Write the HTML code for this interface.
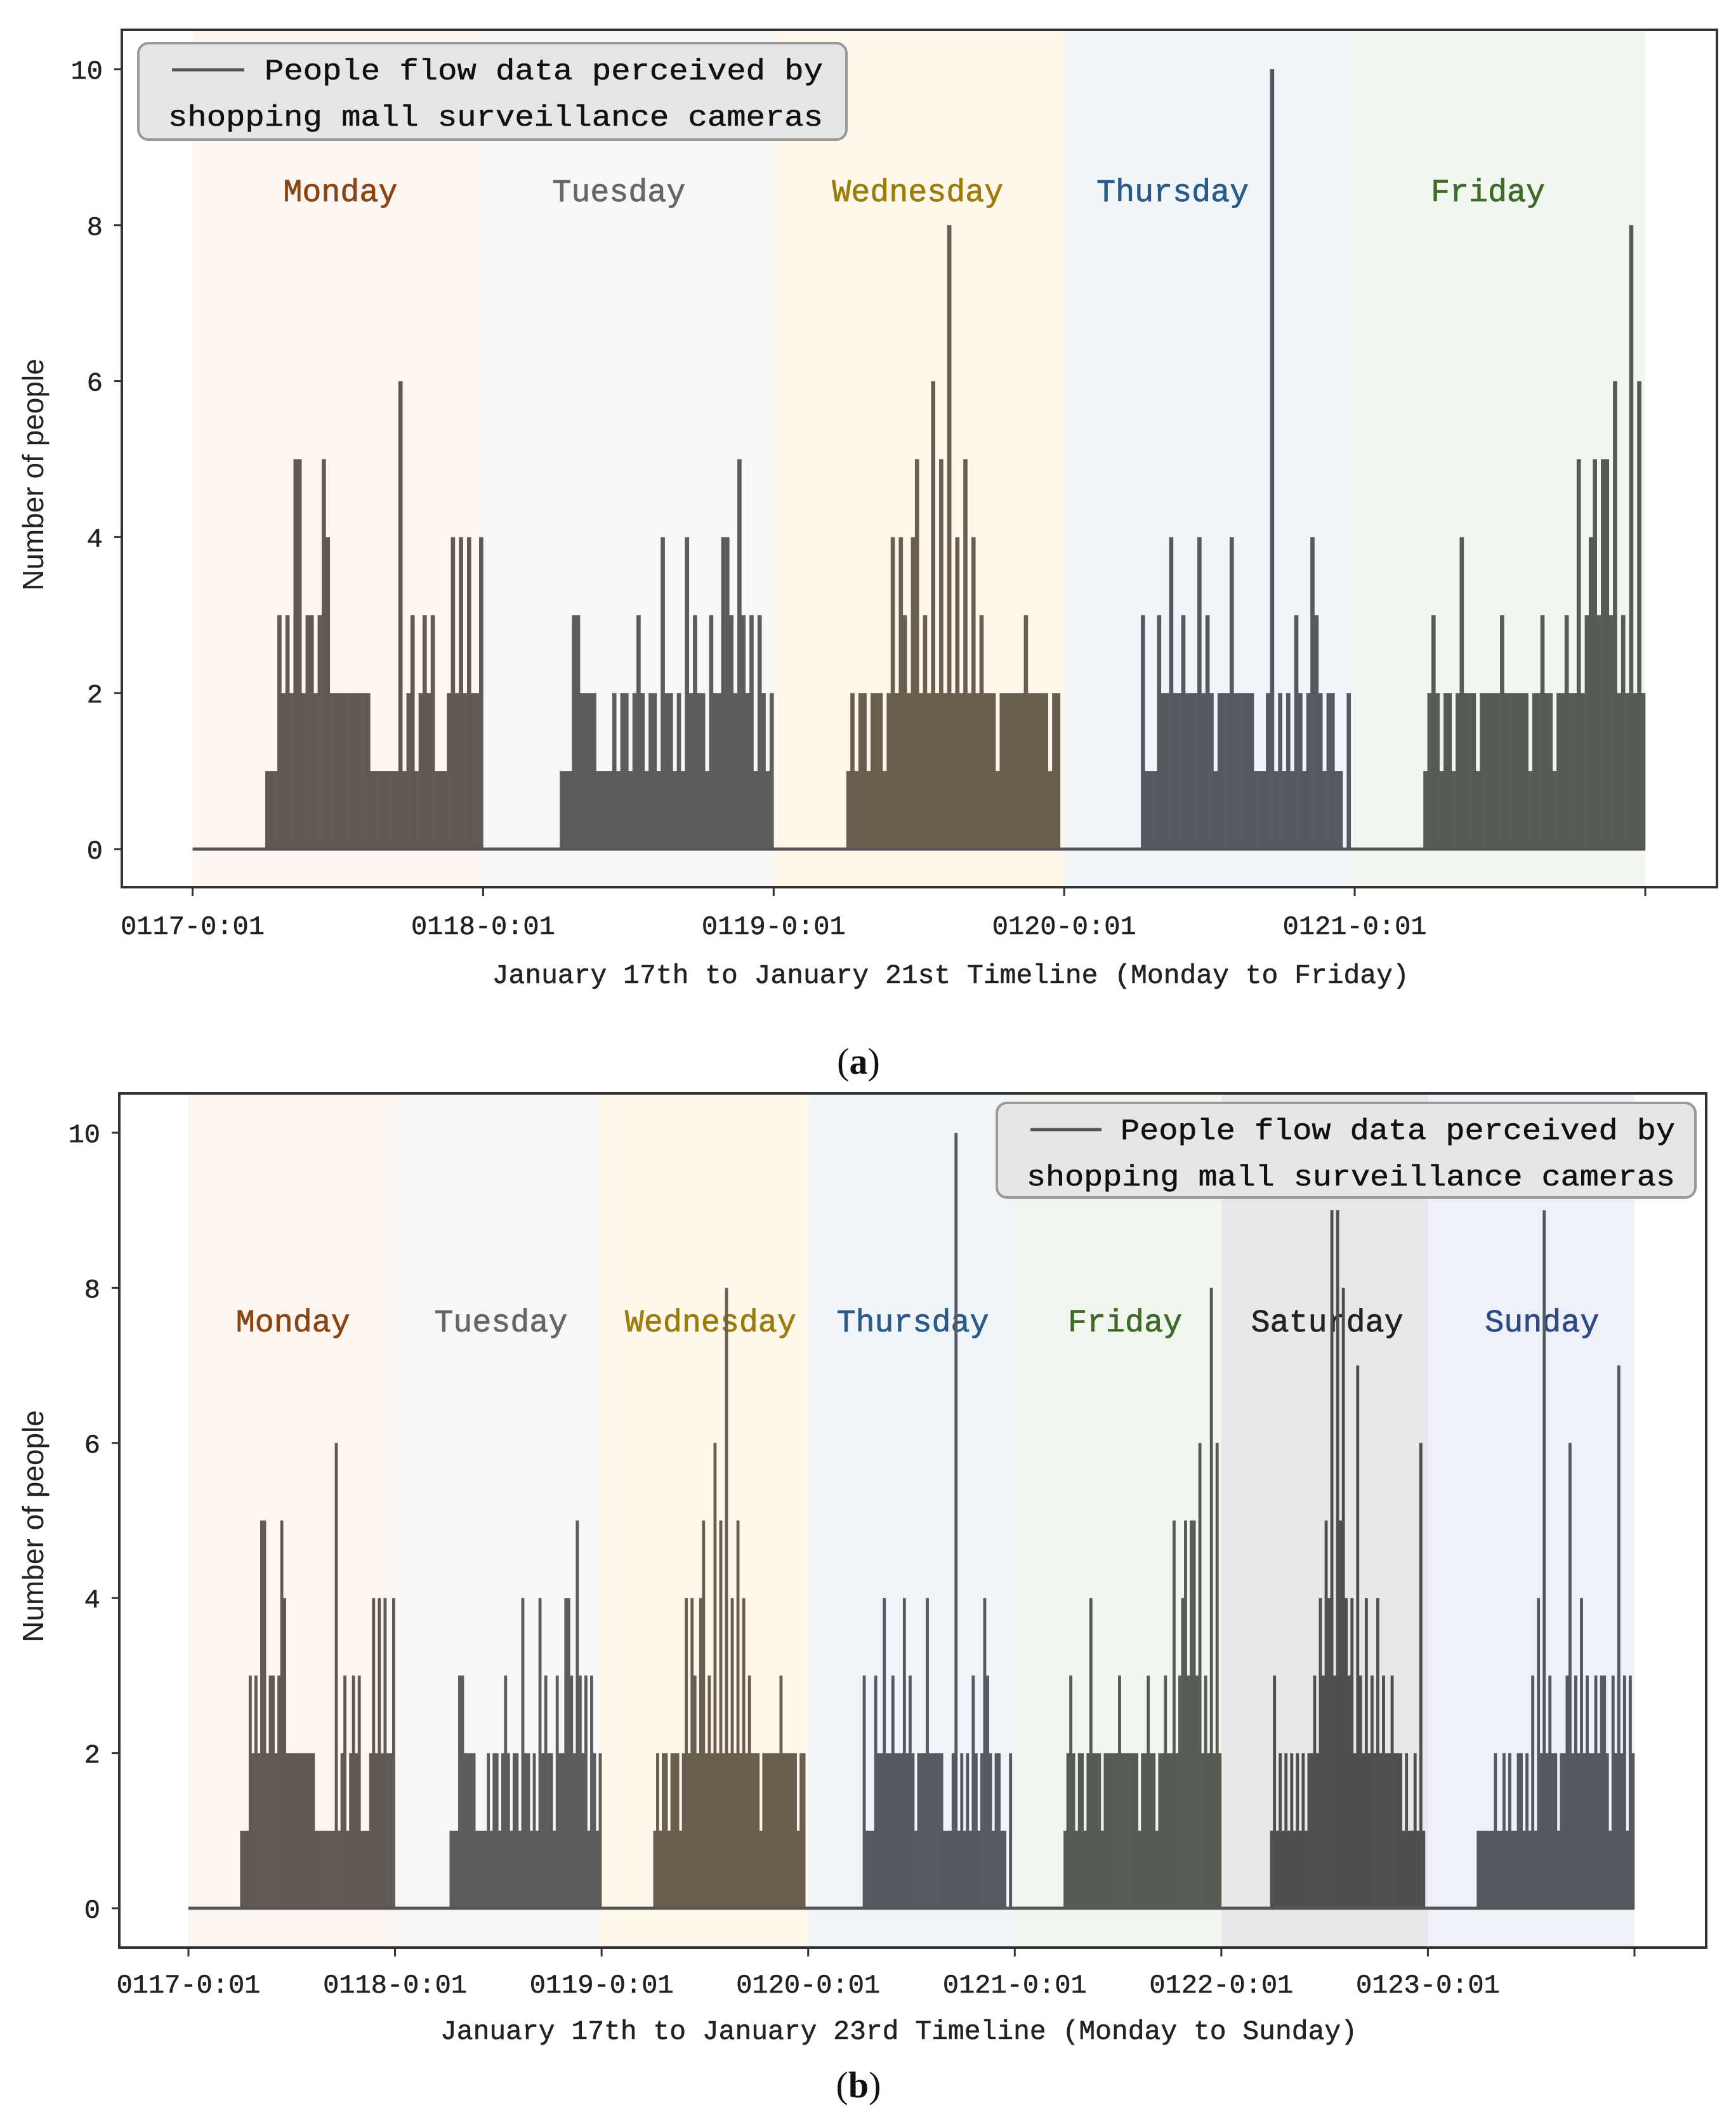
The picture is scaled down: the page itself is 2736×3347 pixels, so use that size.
<!DOCTYPE html>
<html><head><meta charset="utf-8">
<style>
html,body{margin:0;padding:0;background:#fff;}
svg{display:block;}
.mono{font-family:"Liberation Mono",monospace;}
</style></head>
<body>
<svg id="chart" width="2736" height="3347" viewBox="0 0 2736 3347" xmlns="http://www.w3.org/2000/svg"></svg>
<script>
// ---- data (20-minute slots, 72 per day) ----
const monVals=[0,0,0,0,0,0,0,0,0,0,0,0,0,0,0,0,0,0,1,1,1,3,2,3,2,5,5,2,3,3,2,3,5,4,2,2,2,2,2,2,2,2,2,2,1,1,1,1,1,1,1,6,1,2,3,1,2,3,2,3,1,1,1,2,4,2,4,2,4,2,2,4];
const tueVals=[0,0,0,0,0,0,0,0,0,0,0,0,0,0,0,0,0,0,0,1,1,1,3,3,2,2,2,2,1,1,1,1,2,1,2,2,1,2,3,2,1,2,2,1,4,2,2,1,2,1,4,2,3,2,2,1,3,2,2,4,4,3,2,5,3,2,3,1,3,2,1,2];
const wedVals=[0,0,0,0,0,0,0,0,0,0,0,0,0,0,0,0,0,0,1,2,1,2,2,1,2,2,2,1,2,4,2,4,3,2,4,5,2,3,2,6,2,5,2,8,2,4,2,5,2,4,2,3,2,2,2,1,2,2,2,2,2,2,3,2,2,2,2,2,1,2,2,0];
const thuVals=[0,0,0,0,0,0,0,0,0,0,0,0,0,0,0,0,0,0,0,3,1,1,1,3,2,2,4,2,2,3,2,2,2,4,2,3,2,1,2,2,2,4,2,2,2,2,2,1,1,1,2,10,1,2,1,2,1,3,2,1,2,4,3,2,1,2,2,1,1,0,2,0];
const friVals=[0,0,0,0,0,0,0,0,0,0,0,0,0,0,0,0,0,1,2,3,2,1,2,2,1,2,4,2,2,2,1,2,2,2,2,2,3,2,2,2,2,2,2,1,2,2,3,2,2,1,2,2,3,2,2,5,2,3,4,5,3,5,5,3,6,2,3,2,8,2,6,2];
const satVals=[0,0,0,0,0,0,0,0,0,0,0,0,0,0,0,0,0,1,3,1,2,1,2,1,2,1,2,1,2,1,2,2,3,2,4,3,5,4,9,3,9,5,8,4,3,4,2,7,3,2,4,2,3,2,4,2,3,2,2,3,2,2,2,1,2,1,1,2,1,6,1,0];
const sunVals=[0,0,0,0,0,0,0,0,0,0,0,0,0,0,0,0,0,1,1,1,1,1,1,2,1,1,2,1,2,1,1,2,2,1,2,1,3,1,4,2,9,2,3,2,2,1,2,2,3,6,2,3,2,4,2,3,2,2,3,2,3,3,2,1,3,2,7,2,3,1,3,2];
const dayNames=["Monday","Tuesday","Wednesday","Thursday","Friday","Saturday","Sunday"];
const xTickLabels=["0117-0:01","0118-0:01","0119-0:01","0120-0:01","0121-0:01","0122-0:01","0123-0:01"];
const yTicks=[0,2,4,6,8,10];
const allDays=[monVals,tueVals,wedVals,thuVals,friVals,satVals,sunVals];
// styles
const bandColors=["#fdf5f0","#f7f7f7","#fff8ea","#f0f5fa","#f1f6ef","#e8e8e8","#eef1fa"];
const barColors=["#625953","#5c5c5c","#6a5f4f","#555a60","#565c54","#4f4f4f","#545861"];
const labelColors=["#8b4513","#666666","#9a7d0a","#2a5a8a","#3f6a2a","#222222","#2e4a86"];

const NS="http://www.w3.org/2000/svg";
const svg=document.getElementById('chart');
function mk(tag,attrs,parent,text){const e=document.createElementNS(NS,tag);for(const k in attrs)e.setAttribute(k,attrs[k]);if(text!==undefined)e.textContent=text;(parent||svg).appendChild(e);return e;}

function panel(cfg){
  const g=mk('g',{});
  
  
  const nd=cfg.days;
  const dayW=(cfg.xEnd-cfg.x0)/nd;
  const xs=d=>cfg.x0+d*dayW;
  const ys=v=>cfg.y0-(cfg.y0-cfg.y10)*v/10;
  for(let d=0;d<nd;d++){
    const r=mk('rect',{x:xs(d),y:cfg.top+2,width:dayW,height:cfg.bottom-cfg.top-4,fill:bandColors[d]},g);
    
    
  }
  for(let d=0;d<nd;d++){
    const t=mk('text',{x:xs(d+0.5)+cfg.labelShift[d],y:cfg.dayLabelY,'text-anchor':'middle','font-size':cfg.dayFont,fill:labelColors[d],stroke:labelColors[d],'stroke-width':0.8,class:'mono'},g,dayNames[d]);
    
    
  }
  for(let d=0;d<nd;d++){
    const vals=allDays[d];
    const sw=dayW/vals.length;
    const bg=mk('g',{fill:barColors[d]},g);
    
    
    vals.forEach((v,i)=>{
      if(v<=0)return;
      const r=mk('rect',{x:xs(d+i/vals.length),y:ys(v),width:sw+0.3,height:ys(0)-ys(v)},bg);
      
      
    });
  }
  const bl=mk('line',{x1:xs(0),x2:xs(nd),y1:ys(0),y2:ys(0),stroke:'#555',"stroke-width":5},g);
  
  
  const fr=mk('rect',{x:cfg.left,y:cfg.top,width:cfg.right-cfg.left,height:cfg.bottom-cfg.top,fill:'none',stroke:'#333','stroke-width':4},g);
  
  
  yTicks.forEach(v=>{
    mk('line',{x1:cfg.left-12,x2:cfg.left,y1:ys(v),y2:ys(v),stroke:'#333','stroke-width':3},g);
    const t=mk('text',{x:cfg.left-30,y:ys(v)+15,'text-anchor':'end','font-size':42,fill:'#222',stroke:'#222','stroke-width':0.6,class:'mono'},g,String(v));
    
    
  });
  for(let d=0;d<=nd;d++){
    mk('line',{x1:xs(d),x2:xs(d),y1:cfg.bottom,y2:cfg.bottom+14,stroke:'#333','stroke-width':3},g);
    if(d<nd){
      const t=mk('text',{x:xs(d),y:cfg.tickY,'text-anchor':'middle','font-size':42,fill:'#222',stroke:'#222','stroke-width':0.6,class:'mono'},g,xTickLabels[d]);
      
      
    }
  }
  const xt=mk('text',{x:(xs(0)+xs(nd))/2+cfg.xTitleShift,y:cfg.xTitleY,'text-anchor':'middle','font-size':43,fill:'#222',stroke:'#222','stroke-width':0.6,class:'mono'},g,cfg.xTitle);
  
  
  const yt=mk('text',{x:0,y:0,transform:`translate(${cfg.yTitleX},${cfg.yTitleY}) rotate(-90)`,'text-anchor':'middle','font-size':46,fill:'#222','font-family':'Liberation Sans, sans-serif'},g,'Number of people');
  
  
  const lg=mk('g',{},g);
  
  
  const L=cfg.legend;
  mk('rect',{x:L.x,y:L.y,width:L.w,height:L.h,rx:16,fill:'#e6e6e6',stroke:'#999','stroke-width':4},lg);
  mk('line',{x1:L.lx1,x2:L.lx2,y1:L.y+42,y2:L.y+42,stroke:'#555','stroke-width':5},lg);
  mk('text',{x:L.t1x,y:L.y+57,'font-size':46,fill:'#111',stroke:'#111','stroke-width':0.6,class:'mono',textLength:L.tEnd-L.t1x,lengthAdjust:'spacingAndGlyphs'},lg,'People flow data perceived by');
  mk('text',{x:L.t2x,y:L.y+130,'font-size':46,fill:'#111',stroke:'#111','stroke-width':0.6,class:'mono',textLength:L.tEnd-L.t2x,lengthAdjust:'spacingAndGlyphs'},lg,'shopping mall surveillance cameras');
  const pl=mk('text',{x:cfg.tagX,y:cfg.tagY,'text-anchor':'middle','font-size':58,fill:'#111','font-family':'Liberation Serif, serif'},g);
  mk('tspan',{},pl,'(');mk('tspan',{'font-weight':'bold'},pl,cfg.tag);mk('tspan',{},pl,')');
  
  
}

panel({name:'panel-a',days:5,x0:303.5,xEnd:2593,y0:1338,y10:109,left:192,right:2706,top:47,bottom:1398,
  dayLabelY:317,dayFont:50,labelShift:[4,-15,-2,-58,-19],tickY:1472,xTitle:'January 17th to January 21st Timeline (Monday to Friday)',xTitleY:1549,xTitleShift:50,
  yTitleX:68,yTitleY:748,legend:{x:218,y:68,w:1116,h:152,lx1:271,lx2:385,t1x:417,t2x:265,tEnd:1297},tagX:1353,tagY:1692,tag:'a'});
panel({name:'panel-b',days:7,x0:297,xEnd:2576,y0:3007,y10:1785,left:188,right:2689,top:1723,bottom:3069,
  dayLabelY:2098,dayFont:50,labelShift:[2,4,9,2,11,4,17],tickY:3140,xTitle:'January 17th to January 23rd Timeline (Monday to Sunday)',xTitleY:3213,xTitleShift:-20,
  yTitleX:68,yTitleY:2405,legend:{x:1571,y:1738,w:1101,h:149,lx1:1624,lx2:1736,t1x:1766,t2x:1618,tEnd:2640},tagX:1353,tagY:3305,tag:'b'});
</script>
</body></html>
